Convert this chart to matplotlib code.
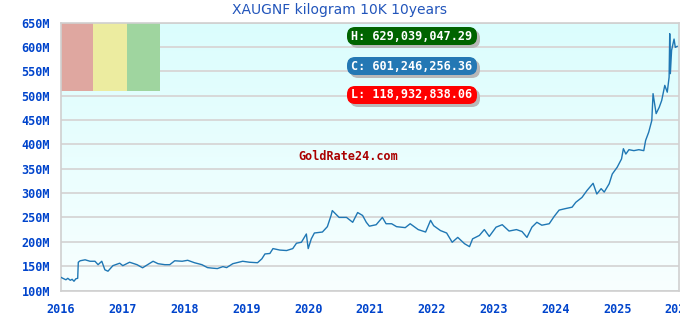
import numpy as np
import matplotlib
matplotlib.use('Agg')
import matplotlib.pyplot as plt
from matplotlib.patches import FancyBboxPatch, Rectangle

# price in millions (decimal year, value)
years = [2016.00, 2016.03, 2016.08, 2016.11, 2016.15, 2016.18, 2016.21, 2016.24,
         2016.27, 2016.28, 2016.31, 2016.39, 2016.47, 2016.55, 2016.60, 2016.66,
         2016.71, 2016.76, 2016.84, 2016.95, 2017.00, 2017.11, 2017.23, 2017.32,
         2017.49, 2017.57, 2017.68, 2017.76, 2017.84, 2017.96, 2018.05, 2018.16,
         2018.28, 2018.37, 2018.44, 2018.53, 2018.62, 2018.68, 2018.78, 2018.94,
         2019.05, 2019.18, 2019.25, 2019.30, 2019.38, 2019.43, 2019.54, 2019.65,
         2019.75, 2019.81, 2019.89, 2019.97, 2020.00, 2020.05, 2020.10, 2020.23,
         2020.31, 2020.37, 2020.39, 2020.50, 2020.62, 2020.72, 2020.80, 2020.88,
         2020.94, 2020.99, 2021.10, 2021.20, 2021.26, 2021.35, 2021.43, 2021.57,
         2021.65, 2021.78, 2021.90, 2021.98, 2022.03, 2022.14, 2022.24, 2022.33,
         2022.42, 2022.53, 2022.61, 2022.66, 2022.77, 2022.85, 2022.93, 2023.04,
         2023.14, 2023.25, 2023.37, 2023.46, 2023.54, 2023.62, 2023.70, 2023.78,
         2023.90, 2023.98, 2024.06, 2024.16, 2024.27, 2024.33, 2024.43, 2024.51,
         2024.61, 2024.67, 2024.74, 2024.79, 2024.87, 2024.92, 2025.00, 2025.07,
         2025.10, 2025.14, 2025.19, 2025.27, 2025.35, 2025.43, 2025.46, 2025.51,
         2025.56, 2025.58, 2025.63, 2025.68, 2025.72, 2025.77, 2025.81, 2025.84,
         2025.85, 2025.86, 2025.88, 2025.92, 2025.94, 2025.97]
values = [127, 125, 122, 125, 121, 123, 119, 124,
          125, 158, 161, 163, 160, 160, 153, 160,
          142.5, 139.6, 151, 156, 151, 158, 153, 146.6,
          160, 155, 153, 153, 161, 160, 162, 157,
          153, 147, 146, 145, 149, 147, 155, 160,
          158, 157, 165, 175, 176, 186, 183, 182,
          186, 197, 199, 216, 186, 206, 218, 220,
          231, 254, 264, 250, 250, 240, 260, 254,
          240, 232, 235, 250, 237, 237, 231, 229,
          237, 225, 220, 244, 233, 223, 218, 199,
          209, 196, 190, 206, 213, 225, 211, 230,
          235, 222, 225, 221, 209, 230, 240, 234,
          237, 252, 265, 268, 271, 281, 291, 305,
          320, 298, 309, 302, 319, 339, 353, 370,
          391, 380, 389, 387, 389, 387, 408, 425,
          449, 504, 463, 476, 490, 521, 507, 538,
          627, 545, 593, 616, 599, 601]

title = 'XAUGNF kilogram 10K 10years'
x_ticks = list(range(2016, 2027))
y_ticks = list(range(100, 651, 50))
high_txt = 'H: 629,039,047.29'
close_txt = 'C: 601,246,256.36'
low_txt = 'L: 118,932,838.06'

W, H = 680, 320
fig = plt.figure(figsize=(6.8, 3.2), dpi=100)
fig.patch.set_facecolor('white')
ax = fig.add_axes([61 / W, 1 - 290.5 / H, 618 / W, 268 / H])

# background gradient
grad = np.linspace(0, 1, 256).reshape(-1, 1)
top = np.array([0xdb, 0xfd, 0xfd]) / 255
bot = np.array([0xf8, 0xff, 0xff]) / 255
img = top[None, None, :] * (1 - grad[:, :, None]) + bot[None, None, :] * grad[:, :, None]
ax.imshow(img, extent=[0, 1, 0, 1], transform=ax.transAxes, aspect='auto', zorder=0)

ax.set_xlim(2016, 2026)
ax.set_ylim(100, 650)
ax.set_xticks(x_ticks)
ax.set_yticks(y_ticks)
ax.set_yticklabels([f'{v}M' for v in y_ticks])
ax.set_xticklabels([str(v) for v in x_ticks])
ax.grid(axis='y', color='#d8d8d8', linewidth=1.4, zorder=1)
ax.set_axisbelow(True)
for s in ax.spines.values():
    s.set_color('#d0d0d0')
    s.set_linewidth(1.2)
ax.tick_params(length=0, colors='#0044cc')
ax.tick_params(axis='y', pad=8)
ax.tick_params(axis='x', pad=9)
for lab in ax.get_xticklabels() + ax.get_yticklabels():
    lab.set_fontfamily('DejaVu Sans Mono')
    lab.set_fontweight('bold')
    lab.set_fontsize(8.5)
    lab.set_color('#0044cc')

# colour blocks top-left
blocks = [(0, 32, '#dfa7a0'), (32, 66, '#ececa0'), (66, 99, '#9fd59f')]
for x0, x1, c in blocks:
    ax.add_patch(Rectangle((x0 / 618, 1 - 68.5 / 268), (x1 - x0) / 618, 68.5 / 268,
                           transform=ax.transAxes, facecolor=c, edgecolor='none', zorder=2))

ax.plot(years, values, color='#1f77b4', linewidth=1.0, zorder=3)

fig.text(339 / W, 1 - 10 / H, title, ha='center', va='center',
         fontsize=10, color='#2255bb', family='DejaVu Sans')

fig.text(348 / W, 1 - 157 / H, 'GoldRate24.com', ha='center', va='center',
         fontsize=8.5, color='#aa0000', family='DejaVu Sans Mono', fontweight='bold')

# H / C / L boxes
boxes = [(high_txt, '#006400', 36), (close_txt, '#2478b4', 66), (low_txt, '#ff0000', 95)]
for txt, col, yc in boxes:
    x0, bw, bh = 347, 130, 18
    y0 = H - yc - bh / 2
    for dx, dy, fc in [(3, -3, '#b8b8b8'), (0, 0, col)]:
        p = FancyBboxPatch(((x0 + dx) / W, (y0 + dy) / H), bw / W, bh / H,
                           boxstyle='round,pad=0,rounding_size=0.012',
                           transform=fig.transFigure, facecolor=fc, edgecolor='none',
                           mutation_aspect=W / H)
        fig.add_artist(p)
    fig.text((x0 + bw / 2) / W, 1 - yc / H, txt, ha='center', va='center',
             fontsize=8.5, color='white', family='DejaVu Sans Mono', fontweight='bold')

fig.savefig('out.png', dpi=100)
